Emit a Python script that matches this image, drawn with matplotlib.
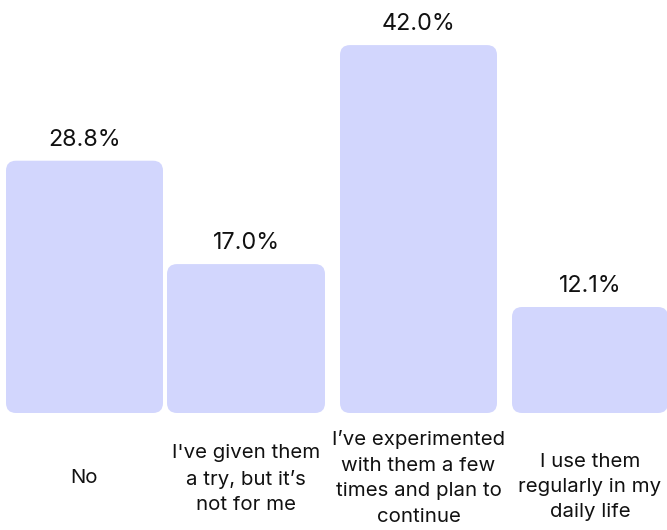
import matplotlib
matplotlib.use("Agg")
import matplotlib.pyplot as plt
from matplotlib.patches import FancyBboxPatch

categories = ["No", "I've given them\na try, but it\u2019s\nnot for me",
              "I\u2019ve experimented\nwith them a few\ntimes and plan to\ncontinue",
              "I use them\nregularly in my\ndaily life"]
values = [28.8, 17.0, 42.0, 12.1]
value_labels = ["28.8%", "17.0%", "42.0%", "12.1%"]

plt.rcParams['font.family'] = ['Inter', 'DejaVu Sans']

W, H = 667, 530
fig = plt.figure(figsize=(W / 100, H / 100), dpi=100)
ax = fig.add_axes([0, 0, 1, 1])
ax.set_axis_off()

px_per_unit = 8.76
base_px = 413  # from top
ax.set_xlim(0, W)
ax.set_ylim(-(H - base_px) / px_per_unit, base_px / px_per_unit)

centers = [84.5, 246, 418.5, 590]
widths = [157, 158, 157, 156]
label_y_px = [478, 479, 478, 487]
color = "#d2d6fd"

for c, w, v, vl, cat, ly in zip(centers, widths, values, value_labels, categories, label_y_px):
    p = FancyBboxPatch((c - w / 2, 0), w, v,
                       boxstyle="round,pad=0,rounding_size=10",
                       mutation_aspect=1 / px_per_unit,
                       facecolor=color, edgecolor="none")
    ax.add_patch(p)
    ax.text(c, v + 15 / px_per_unit, vl, ha="center", va="baseline",
            fontsize=16.8, color="#111111")
    ax.text(c, (base_px - ly) / px_per_unit, cat, ha="center", va="center",
            fontsize=14.7, color="#111111", linespacing=1.53)

fig.savefig("out.png", dpi=100)
